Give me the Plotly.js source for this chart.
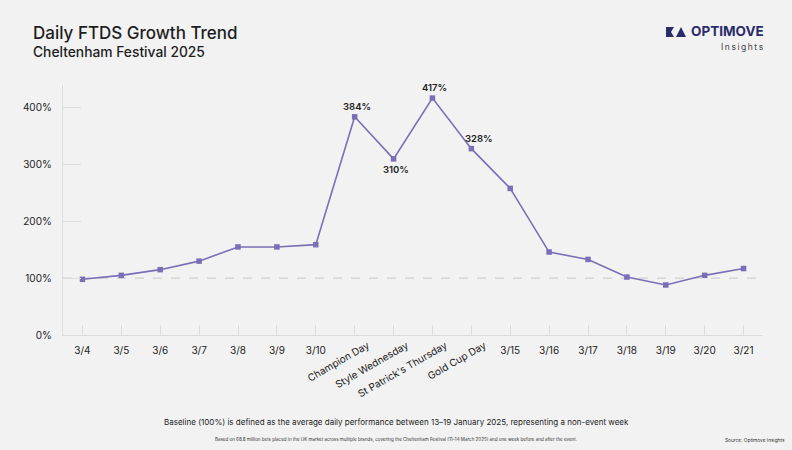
<!DOCTYPE html>
<html>
<head>
<meta charset="utf-8">
<script src="https://cdn.plot.ly/plotly-3.0.1.min.js"></script>
<style>
html,body{margin:0;padding:0;background:#f2f2f2;}
#chart{width:792px;height:450px;}
</style>
</head>
<body>
<div id="chart"></div>
<script>
const categories = ["3/4","3/5","3/6","3/7","3/8","3/9","3/10","Champion Day","Style Wednesday","St Patrick's Thursday","Gold Cup Day","3/15","3/16","3/17","3/18","3/19","3/20","3/21"];
const growth = [98,105,115,130,155,155,159,384,310,417,328,258,146,133,102,88,105,117];
const eventDays = ["Champion Day","Style Wednesday","St Patrick's Thursday","Gold Cup Day"];
const labelledDays = ["Champion Day","Style Wednesday","St Patrick's Thursday","Gold Cup Day"];
const labelSide = ["above","below","above","above-right"];
const yTicks = [0,100,200,300,400];
const yTickText = ["0%","100%","200%","300%","400%"];
const baseline = 100;

const FONT = "Inter, 'Open Sans', sans-serif";
const purple = "#7a6fb7";

const plainTickVals = categories.filter(c => !eventDays.includes(c));

const traces = [
  {
    x: categories, y: growth, type: "scatter", mode: "lines+markers",
    line: {color: purple, width: 1.6},
    marker: {color: purple, symbol: "square", size: 5.5},
    cliponaxis: false, hoverinfo: "skip", xaxis: "x", yaxis: "y"
  },
  {
    x: categories, y: growth, type: "scatter", mode: "none",
    hoverinfo: "skip", showlegend: false, xaxis: "x2", yaxis: "y"
  }
];

const valueLabels = labelledDays.map((d, k) => {
  const i = categories.indexOf(d);
  const side = labelSide[k];
  return {
    x: d, y: growth[i], xref: "x", yref: "y", text: growth[i] + "%", showarrow: false,
    xanchor: "center", yanchor: side === "below" ? "top" : "bottom",
    xshift: side === "above-right" ? 8 : 2, yshift: side === "below" ? -3 : 3,
    font: {family: FONT, size: 9.5, color: "#222", weight: 600}
  };
});

const layout = {
  width: 792, height: 450,
  paper_bgcolor: "#f2f2f2", plot_bgcolor: "#f2f2f2",
  margin: {l: 63, r: 29, t: 85, b: 115},
  showlegend: false,
  font: {family: FONT, color: "#222"},
  xaxis: {
    type: "category", categoryorder: "array", categoryarray: categories,
    range: [-0.5, 17.5], fixedrange: true,
    tickmode: "array", tickvals: plainTickVals, ticktext: plainTickVals,
    ticks: "inside", ticklen: 10, tickcolor: "#dcdcdc", tickwidth: 1,
    ticklabelstandoff: 6,
    showgrid: false, zeroline: false,
    showline: true, linecolor: "#dcdcdc", linewidth: 1.2,
    tickfont: {family: FONT, size: 10, color: "#222"}
  },
  xaxis2: {
    type: "category", categoryorder: "array", categoryarray: categories,
    range: [-0.5, 17.5], overlaying: "x", anchor: "y", side: "bottom",
    tickmode: "array", tickvals: eventDays.concat(["3/15"]), ticktext: eventDays.concat([""]),
    tickangle: -30, ticks: "inside", ticklen: 10, tickcolor: "#dcdcdc",
    ticklabelstandoff: 2, ticklabelshift: 13,
    showgrid: false, zeroline: false, showline: false,
    tickfont: {family: FONT, size: 10, color: "#222"}
  },
  yaxis: {
    range: [0, 440], fixedrange: true,
    tickmode: "array", tickvals: yTicks, ticktext: yTickText,
    ticks: "inside", ticklen: 18, tickcolor: "#dcdcdc", tickwidth: 1,
    ticklabelstandoff: 8,
    showgrid: false, zeroline: false,
    showline: true, linecolor: "#dcdcdc", linewidth: 1.2,
    tickfont: {family: FONT, size: 10, color: "#222"}
  },
  shapes: [
    {type: "line", xref: "paper", x0: 0, x1: 1, yref: "y", y0: baseline, y1: baseline,
     line: {color: "#cfcfcf", width: 1.2, dash: "dash"}, layer: "below"}
  ],
  annotations: [
    {text: "Daily FTDS Growth Trend", xref: "paper", yref: "paper", x: -0.046, y: 1.0,
     xanchor: "left", yanchor: "bottom", yshift: 40, showarrow: false,
     font: {family: FONT, size: 17, color: "#1e1e1e", weight: 500}},
    {text: "Cheltenham Festival 2025", xref: "paper", yref: "paper", x: -0.046, y: 1.0,
     xanchor: "left", yanchor: "bottom", yshift: 23, showarrow: false,
     font: {family: FONT, size: 13.8, color: "#1e1e1e", weight: 500}},
    {text: "OPTIMOVE", xref: "paper", yref: "paper", x: 1.0, y: 1.0, xanchor: "right", yanchor: "bottom",
     xshift: 3, yshift: 44, showarrow: false,
     font: {family: FONT, size: 13.5, color: "#2b2c6b", weight: 700}},
    {text: "I\u2009n\u2009s\u2009i\u2009g\u2009h\u2009t\u2009s", xref: "paper", yref: "paper", x: 1.0, y: 1.0, xanchor: "right", yanchor: "bottom",
     xshift: 3, yshift: 31, showarrow: false,
     font: {family: FONT, size: 8.5, color: "#444"}},
    {text: "Baseline (100%) is defined as the average daily performance between 13–19 January 2025, representing a non-event week",
     xref: "paper", yref: "paper", x: 0.476, y: 0, xanchor: "center", yanchor: "top", yshift: -80, showarrow: false,
     font: {family: FONT, size: 8, color: "#222"}},
    {text: "Based on 68.8 million bets placed in the UK market across multiple brands, covering the Cheltenham Festival (11–14 March 2025) and one week before and after the event.",
     xref: "paper", yref: "paper", x: 0.476, y: 0, xanchor: "center", yanchor: "top", yshift: -100, showarrow: false,
     font: {family: FONT, size: 4.5, color: "#333"}},
    {text: "Source: Optimove Insights",
     xref: "paper", yref: "paper", x: 1.0, y: 0, xanchor: "right", yanchor: "top", xshift: 24, yshift: -100, showarrow: false,
     font: {family: FONT, size: 4.8, color: "#333"}}
  ].concat(valueLabels)
};

// logo mark
const plotW = 792 - 63 - 29, plotH = 450 - 85 - 115;
function px(x){ return (x - 63) / plotW; }
function py(y){ return (450 - 115 - y) / plotH; }
layout.shapes.push({type: "path", xref: "paper", yref: "paper",
  path: `M ${px(666)} ${py(27)} L ${px(674)} ${py(27)} L ${px(671)} ${py(32)} L ${px(674)} ${py(37)} L ${px(666)} ${py(37)} Z`,
  fillcolor: "#2b2c6b", line: {width: 0}});
layout.shapes.push({type: "path", xref: "paper", yref: "paper",
  path: `M ${px(676)} ${py(37)} L ${px(681)} ${py(27)} L ${px(686)} ${py(37)} Z`,
  fillcolor: "#2b2c6b", line: {width: 0}});

Plotly.newPlot("chart", traces, layout, {displayModeBar: false, staticPlot: true});
</script>
</body>
</html>
